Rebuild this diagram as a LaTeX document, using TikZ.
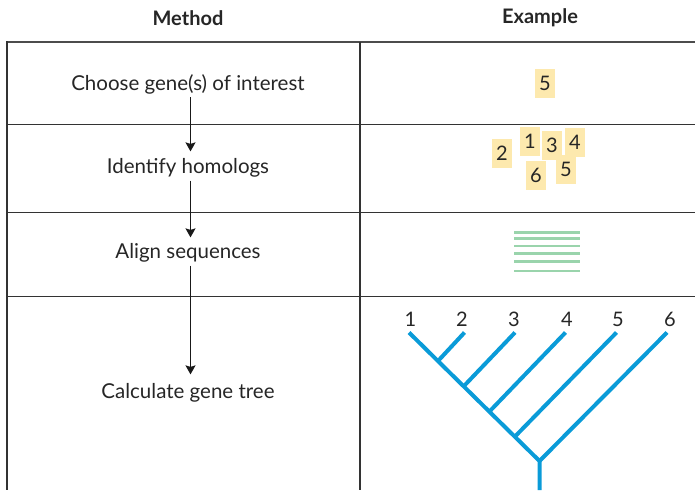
\documentclass[tikz,border=0pt]{standalone}
\usepackage{fontspec}
\setmainfont{Lato}
\usetikzlibrary{arrows.meta}
\definecolor{boxy}{HTML}{FDE9AE}
\definecolor{lineg}{HTML}{9AD4AC}
\definecolor{treeb}{HTML}{0A9BD8}
\definecolor{rule}{HTML}{333333}
\tikzset{
  hdr/.style={font=\bfseries\fontsize{20}{24}\selectfont, text=black!85},
  txt/.style={font=\fontsize{20.5}{24}\selectfont, text=black!85, inner sep=1pt},
  numbox/.style={fill=boxy, minimum width=20pt, minimum height=29pt, inner sep=0pt, font=\fontsize{20}{24}\selectfont, text=black!85},
  arr/.style={draw=black!90, line width=1.4pt, -{Stealth[length=9pt,width=10pt,inset=1.5pt]}},
  grid/.style={draw=rule, line width=1.2pt},
  tree/.style={draw=treeb, line width=4pt},
  aln/.style={draw=lineg, line width=2.6pt},
  tip/.style={font=\fontsize{20}{24}\selectfont, text=black!85, inner sep=0pt}
}
\begin{document}
\begin{tikzpicture}[x=1pt,y=-1pt]
\useasboundingbox (0,0) rectangle (695,490);
% table
\draw[draw=black!70, line width=2.6pt] (7,42) -- (695,42);
\draw[grid] (7,41) -- (7,490);
\draw[grid] (360,42) -- (360,490);
\draw[grid] (7,124.5) -- (695,124.5);
\draw[grid] (7,212.5) -- (695,212.5);
\draw[grid] (7,296.5) -- (695,296.5);
% headers
\node[hdr] (hm) at (188,18) {Method};
\node[hdr] (he) at (540,18) {Example};
% method texts
\node[txt] (t1) at (188,84) {Choose gene(s) of interest};
\node[txt] (t2) at (188,168) {Identify homologs};
\node[txt] (t3) at (188,253) {Align sequences};
\node[txt] (t4) at (188,393) {Calculate gene tree};
\draw[arr] ([xshift=2.5pt,yshift=-2pt]t1.south) -- ([xshift=2.5pt,yshift=6pt]t2.north);
\draw[arr] ([xshift=2.5pt,yshift=-2pt]t2.south) -- ([xshift=2.5pt,yshift=5pt]t3.north);
\draw[arr] ([xshift=2.5pt,yshift=-2pt]t3.south) -- ([xshift=2.5pt,yshift=8pt]t4.north);
% example row 1
\node[numbox] (e5) at (545,83) {5};
% row 2
\node[numbox] (n2) at (502,153.5) {2};
\node[numbox] (n1) at (530,141.5) {1};
\node[numbox] (n3) at (552,145.5) {3};
\node[numbox] (n4) at (575,142.5) {4};
\node[numbox] (n6) at (536,175.5) {6};
\node[numbox] (n5) at (566,169) {5};
% alignment lines
\foreach \y in {232.3,238.7,246,253.7,261.3,271} {
  \draw[aln] (514,\y) -- (580,\y);
}
% tree
\coordinate (root) at (539.5,461);
\coordinate (base) at (539.5,490);
\coordinate (j2) at (438,361);
\coordinate (j3) at (463.5,386.5);
\coordinate (j4) at (489,412);
\coordinate (j5) at (514.5,437);
\coordinate (c1) at (409,332.5);
\coordinate (c2) at (464.5,332.5);
\coordinate (c3) at (515,332.5);
\coordinate (c4) at (565.5,332.5);
\coordinate (c5) at (616.5,332.5);
\coordinate (c6) at (667,332.5);
\draw[tree] (base) -- (root) -- (c1);
\draw[tree] (j2) -- (c2);
\draw[tree] (j3) -- (c3);
\draw[tree] (j4) -- (c4);
\draw[tree] (j5) -- (c5);
\draw[tree] (root) -- (c6);
\node[tip] (l1) at (410.5,319) {1};
\node[tip] (l2) at (462,319) {2};
\node[tip] (l3) at (514,319) {3};
\node[tip] (l4) at (567,319) {4};
\node[tip] (l5) at (618,319) {5};
\node[tip] (l6) at (670,319) {6};
\end{tikzpicture}
\end{document}
